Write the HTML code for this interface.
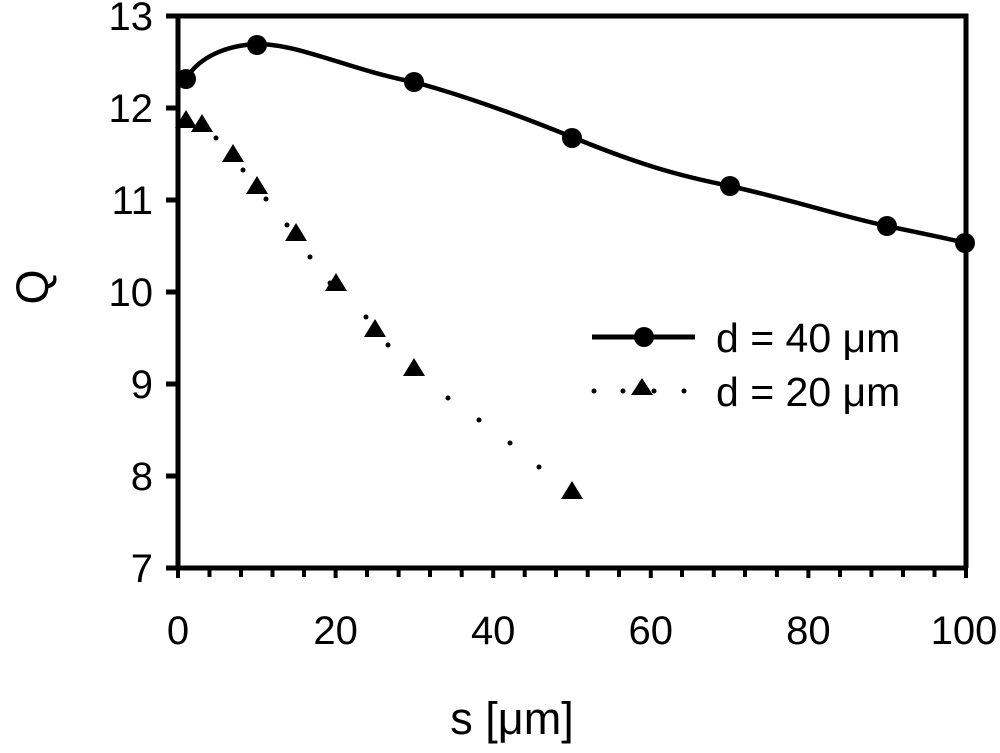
<!DOCTYPE html>
<html><head><meta charset="utf-8"><style>
html,body{margin:0;padding:0;background:#fff;}
svg{display:block;font-family:"Liberation Sans",Arial,sans-serif;}
</style></head><body>
<svg width="1000" height="753" viewBox="0 0 1000 753" xmlns="http://www.w3.org/2000/svg">
<g stroke="#000" stroke-width="5" fill="none">
<path d="M166 16 H966 V568 M178 16 V568 H968"/>
<path d="M166 108H178 M166 200H178 M166 292H178 M166 384H178 M166 476H178 M166 568H178"/>
</g>
<g stroke="#000" stroke-width="4">
<line x1="178" y1="568" x2="178" y2="578"/><line x1="209.5" y1="568" x2="209.5" y2="577"/><line x1="241" y1="568" x2="241" y2="577"/><line x1="272.5" y1="568" x2="272.5" y2="577"/><line x1="304" y1="568" x2="304" y2="577"/><line x1="335.6" y1="568" x2="335.6" y2="578"/><line x1="367" y1="568" x2="367" y2="577"/><line x1="398.6" y1="568" x2="398.6" y2="577"/><line x1="430" y1="568" x2="430" y2="577"/><line x1="461.7" y1="568" x2="461.7" y2="577"/><line x1="493.2" y1="568" x2="493.2" y2="578"/><line x1="524.7" y1="568" x2="524.7" y2="577"/><line x1="556" y1="568" x2="556" y2="577"/><line x1="587.7" y1="568" x2="587.7" y2="577"/><line x1="619" y1="568" x2="619" y2="577"/><line x1="650.8" y1="568" x2="650.8" y2="578"/><line x1="682" y1="568" x2="682" y2="577"/><line x1="713.8" y1="568" x2="713.8" y2="577"/><line x1="745" y1="568" x2="745" y2="577"/><line x1="776.9" y1="568" x2="776.9" y2="577"/><line x1="808.4" y1="568" x2="808.4" y2="578"/><line x1="840" y1="568" x2="840" y2="577"/><line x1="871.4" y1="568" x2="871.4" y2="577"/><line x1="903" y1="568" x2="903" y2="577"/><line x1="934.5" y1="568" x2="934.5" y2="577"/><line x1="966" y1="568" x2="966" y2="578"/>
</g>
<g font-size="40" text-anchor="end" fill="#000">
<text x="153" y="30">13</text><text x="153" y="122">12</text><text x="153" y="214">11</text><text x="153" y="306">10</text><text x="153" y="398">9</text><text x="153" y="490">8</text><text x="153" y="582">7</text>
</g>
<g font-size="40" text-anchor="middle" fill="#000">
<text x="178" y="644">0</text><text x="335.6" y="644">20</text><text x="493.2" y="644">40</text><text x="650.8" y="644">60</text><text x="808.4" y="644">80</text><text x="964" y="644">100</text>
</g>
<text x="512" y="734" font-size="45" text-anchor="middle">s [μm]</text>
<text transform="translate(48,287) rotate(-90)" font-size="45" text-anchor="middle">Q</text>
<path d="M186 79 C200 55 230 45 257 44 C300 44 350 70 414 82 C480 100 540 124 572 137 C640 165 680 176 730 186 C800 202 840 216 887 226 C920 233 945 238 966 243" stroke="#000" stroke-width="4.5" fill="none"/>
<g fill="#000">
<circle cx="186" cy="79" r="10"/><circle cx="257" cy="45" r="10"/><circle cx="414" cy="82" r="10"/><circle cx="572" cy="138" r="10"/><circle cx="730" cy="186" r="10"/><circle cx="887" cy="226" r="10"/><circle cx="965" cy="243" r="10"/>
</g>
<g fill="#000">
<circle cx="216" cy="138" r="2.5"/><circle cx="243" cy="170" r="2.5"/><circle cx="266" cy="199" r="2.5"/><circle cx="287" cy="225" r="2.5"/><circle cx="310" cy="257" r="2.5"/><circle cx="330" cy="283" r="2.5"/><circle cx="366" cy="317" r="2.5"/><circle cx="388" cy="345" r="2.5"/><circle cx="448" cy="398" r="2.5"/><circle cx="479" cy="420" r="2.5"/><circle cx="510" cy="443" r="2.5"/><circle cx="539" cy="467" r="2.5"/>
</g>
<g fill="#000">
<path d="M186 110 l-11 18 h22z"/><path d="M202 114 l-11 18 h22z"/><path d="M233 144 l-11 18 h22z"/><path d="M257 176 l-11 18 h22z"/><path d="M296 223 l-11 18 h22z"/><path d="M336 273 l-11 18 h22z"/><path d="M375 319 l-11 18 h22z"/><path d="M414 358 l-11 18 h22z"/><path d="M572 481 l-11 18 h22z"/>
</g>
<line x1="592" y1="337" x2="695" y2="337" stroke="#000" stroke-width="5"/>
<circle cx="644" cy="337" r="10" fill="#000"/>
<circle cx="594" cy="391" r="2.5" fill="#000"/><circle cx="623" cy="391" r="2.5" fill="#000"/><circle cx="654" cy="391" r="2.5" fill="#000"/><circle cx="684" cy="391" r="2.5" fill="#000"/>
<path d="M642 378 l-11 17 h22z" fill="#000"/>
<g font-size="41" fill="#000"><text x="716" y="352">d = 40 μm</text><text x="716" y="406">d = 20 μm</text></g>
</svg>
</body></html>
